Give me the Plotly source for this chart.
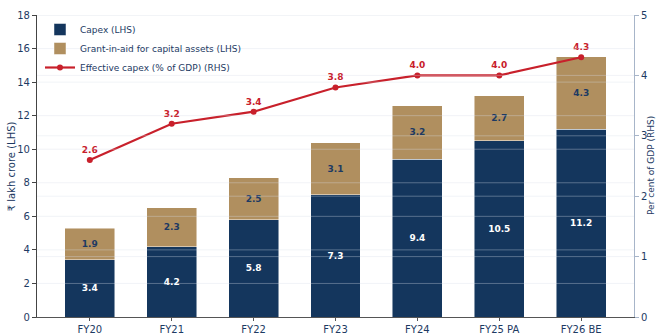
import plotly.graph_objects as go

# Union budget capital expenditure, FY20 to FY26 BE
years = ["FY20", "FY21", "FY22", "FY23", "FY24", "FY25 PA", "FY26 BE"]
capex = [3.4, 4.2, 5.8, 7.3, 9.4, 10.5, 11.2]              # ₹ lakh crore
grant_in_aid = [1.9, 2.3, 2.5, 3.1, 3.2, 2.7, 4.3]         # ₹ lakh crore
effective_capex_pct = [2.6, 3.2, 3.4, 3.8, 4.0, 4.0, 4.3]  # % of GDP

left_ticks = [0, 2, 4, 6, 8, 10, 12, 14, 16, 18]
right_ticks = [0, 1, 2, 3, 4, 5]

NAVY = "#14365d"
TAN = "#b08f5f"
RED = "#c8202b"
TEXT = "#1d3a63"
FONT = "DejaVu Sans"

fig = go.Figure()

fig.add_trace(go.Bar(
    x=years, y=capex, name="Capex (LHS)",
    marker=dict(color=NAVY, line=dict(color="rgba(255,255,255,0.6)", width=0.8)),
    text=[f"{v:.1f}" for v in capex], textposition="inside",
    insidetextanchor="middle", textangle=0, constraintext="none",
    textfont=dict(color="white", size=9, family=FONT, weight="bold"),
    width=0.61,
))
fig.add_trace(go.Bar(
    x=years, y=grant_in_aid, name="Grant-in-aid for capital assets (LHS)",
    marker=dict(color=TAN, line=dict(color="rgba(255,255,255,0.6)", width=0.8)),
    text=[f"{v:.1f}" for v in grant_in_aid], textposition="inside",
    insidetextanchor="middle", textangle=0, constraintext="none",
    textfont=dict(color=TEXT, size=9, family=FONT, weight="bold"),
    width=0.61,
))
fig.add_trace(go.Scatter(
    x=years, y=effective_capex_pct, name="Effective capex (% of GDP) (RHS)",
    yaxis="y2", mode="lines+markers+text",
    line=dict(color=RED, width=2.2), marker=dict(color=RED, size=6),
    text=[f"{v:.1f}" for v in effective_capex_pct], textposition="top center",
    textfont=dict(color=RED, size=9, family=FONT, weight="bold"),
    cliponaxis=False,
))

# faint gridlines drawn over the bars for both axes
grid = []
for t in left_ticks[1:]:
    grid.append(dict(type="line", xref="paper", yref="y", x0=0, x1=1, y0=t, y1=t,
                     line=dict(color="rgba(215,222,232,0.35)", width=1), layer="above"))
for t in right_ticks[1:]:
    grid.append(dict(type="line", xref="paper", yref="y2", x0=0, x1=1, y0=t, y1=t,
                     line=dict(color="rgba(215,222,232,0.35)", width=1), layer="above"))

fig.update_layout(
    width=657, height=336,
    margin=dict(l=37, r=23, t=15, b=19),
    paper_bgcolor="white", plot_bgcolor="white",
    barmode="stack",
    font=dict(family=FONT, color=TEXT, size=10),
    showlegend=True,
    legend=dict(x=0.005, y=1.0, xanchor="left", yanchor="top",
                bgcolor="rgba(0,0,0,0)", font=dict(size=9, color=TEXT),
                tracegroupgap=0, itemwidth=30, traceorder="normal"),
    xaxis=dict(type="category", range=[-0.645, 6.645], showgrid=False,
               showline=True, linecolor="#555555", linewidth=1,
               ticks="outside", ticklen=3, tickcolor="#555555",
               tickfont=dict(size=10, color=TEXT), automargin=False),
    yaxis=dict(range=[0, 18], tickvals=left_ticks, showgrid=False, zeroline=False,
               showline=True, linecolor="#444444", linewidth=1.2,
               ticks="outside", ticklen=4, tickcolor="#444444",
               tickfont=dict(size=10, color=TEXT), automargin=False),
    yaxis2=dict(range=[0, 5], tickvals=right_ticks, overlaying="y", side="right",
                showgrid=False, zeroline=False,
                showline=True, linecolor="#a7b5c9", linewidth=1.2,
                ticks="outside", ticklen=4, tickcolor="#a7b5c9",
                tickfont=dict(size=10, color=TEXT), automargin=False),
    shapes=grid,
    annotations=[
        dict(text="₹ lakh crore (LHS)", xref="paper", yref="paper", x=-0.043, y=0.5,
             xanchor="center", yanchor="middle", textangle=-90, showarrow=False,
             font=dict(size=10, color=TEXT)),
        dict(text="Per cent of GDP (RHS)", xref="paper", yref="paper", x=1.0285, y=0.5,
             xanchor="center", yanchor="middle", textangle=-90, showarrow=False,
             font=dict(size=9, color=TEXT)),
    ],
)

fig.write_html("out.html")
